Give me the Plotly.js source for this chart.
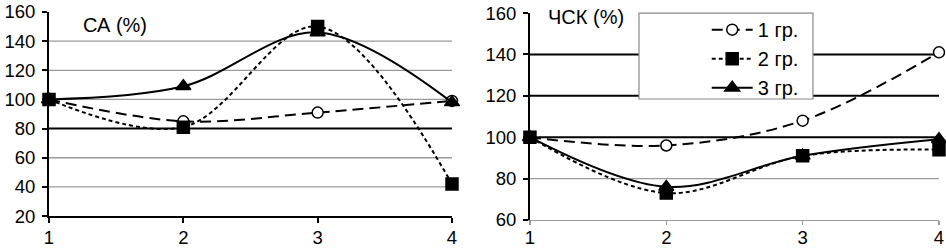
<!DOCTYPE html>
<html><head><meta charset="utf-8">
<script src="https://cdn.plot.ly/plotly-3.0.1.min.js"></script>
<style>html,body{margin:0;padding:0;background:#fff}#c{width:946px;height:250px}</style>
</head><body><div id="c"></div>
<script>
const stages = [1, 2, 3, 4];
const groupNames = ['1 гр.', '2 гр.', '3 гр.'];
// СА (%)
const saG1 = [100, 85, 91, 99];
const saG2 = [100, 81, 150, 42];
const saG3 = [100, 109, 146, 98];
// ЧСК (%)
const chskG1 = [100, 96, 108, 141];
const chskG2 = [100, 73, 91, 94];
const chskG3 = [100, 76, 91, 99];

const saTicks = [20, 40, 60, 80, 100, 120, 140, 160];
const chskTicks = [60, 80, 100, 120, 140, 160];
const saGrid = [40, 60, 80, 100, 120, 140];
const saGridDark = [false, false, true, false, false, false];
const chskGrid = [80, 100, 120, 140];
const chskGridDark = [false, true, true, true];

const styles = [
  {dash: '11px,6px', symbol: 'circle', size: 11},
  {dash: '4px,3px', symbol: 'square', size: 12},
  {dash: 'solid', symbol: 'triangle-up', size: 13}
];

function tr(y, i, xa, ya, show) {
  const s = styles[i];
  return {
    x: stages, y: y, xaxis: xa, yaxis: ya, type: 'scatter', mode: 'lines+markers',
    name: groupNames[i], showlegend: show, cliponaxis: false,
    line: {shape: 'spline', smoothing: 1, color: '#000', width: 2, dash: s.dash},
    marker: {symbol: s.symbol, size: s.size, color: i === 0 ? '#fff' : '#000',
             line: {color: '#000', width: 1.5}}
  };
}
const data = [
  tr(saG1, 0, 'x', 'y', false), tr(saG2, 1, 'x', 'y', false), tr(saG3, 2, 'x', 'y', false),
  tr(chskG1, 0, 'x2', 'y2', true), tr(chskG2, 1, 'x2', 'y2', true), tr(chskG3, 2, 'x2', 'y2', true)
];

const shapes = [];
saGrid.forEach((v, i) => shapes.push({type: 'line', xref: 'x domain', yref: 'y', x0: 0, x1: 1, y0: v, y1: v,
  layer: 'below', line: {color: saGridDark[i] ? '#000' : '#9a9a9a', width: saGridDark[i] ? 2 : 1.3}}));
chskGrid.forEach((v, i) => shapes.push({type: 'line', xref: 'x2 domain', yref: 'y2', x0: 0, x1: 1, y0: v, y1: v,
  layer: 'below', line: {color: chskGridDark[i] ? '#000' : '#9a9a9a', width: chskGridDark[i] ? 2 : 1.3}}));
// legend frame
shapes.push({type: 'rect', xref: 'paper', yref: 'paper', x0: 0.6629, x1: 0.8584, y0: 0.5817, y1: 0.995,
  layer: 'above', fillcolor: '#fff', line: {color: '#888', width: 1.2}});

const tfnt = {family: 'Liberation Sans, Arial, sans-serif', size: 18.5, color: '#000'};
const afnt = {family: 'Liberation Sans, Arial, sans-serif', size: 20, color: '#000'};
const xax = {range: [1, 4], tickvals: stages, showgrid: false, zeroline: false, showline: true,
  linecolor: '#000', linewidth: 2, ticks: 'outside', ticklen: 5, tickwidth: 2, tickcolor: '#000', tickfont: tfnt,
  ticklabelstandoff: -1};
const yax = {showgrid: false, zeroline: false, showline: true, linecolor: '#000', linewidth: 2,
  ticks: 'outside', ticklen: 5, tickwidth: 2, tickcolor: '#000', tickfont: tfnt, ticklabelstandoff: 3};

const layout = {
  width: 946, height: 250, margin: {l: 49, r: 7, t: 12, b: 30},
  paper_bgcolor: '#fff', plot_bgcolor: '#fff', font: tfnt, showlegend: true,
  xaxis: Object.assign({}, xax, {domain: [0, 0.4528], anchor: 'y'}),
  yaxis: Object.assign({}, yax, {domain: [0.019, 1], range: [20, 160], tickvals: saTicks, anchor: 'x'}),
  xaxis2: Object.assign({}, xax, {domain: [0.5404, 1], anchor: 'y2', linecolor: '#9a9a9a', linewidth: 1.3,
    tickcolor: '#9a9a9a', tickwidth: 1.3, ticklen: 4, ticklabelstandoff: -4}),
  yaxis2: Object.assign({}, yax, {domain: [0, 0.995], range: [60, 160], tickvals: chskTicks, anchor: 'x2'}),
  shapes: shapes,
  annotations: [
    {text: 'СА (%)', xref: 'x domain', yref: 'y domain', x: 0.08, y: 0.936, xanchor: 'left', yanchor: 'middle', showarrow: false, font: afnt},
    {text: 'ЧСК (%)', xref: 'x2 domain', yref: 'y2 domain', x: 0.04, y: 0.98, xanchor: 'left', yanchor: 'middle', showarrow: false, font: afnt}
  ],
  legend: {x: 0.739, y: 1.009, xanchor: 'left', yanchor: 'top', bgcolor: 'rgba(0,0,0,0)', borderwidth: 0,
    font: afnt, itemwidth: 41}
};
Plotly.newPlot('c', data, layout, {displayModeBar: false, staticPlot: true});
</script></body></html>
